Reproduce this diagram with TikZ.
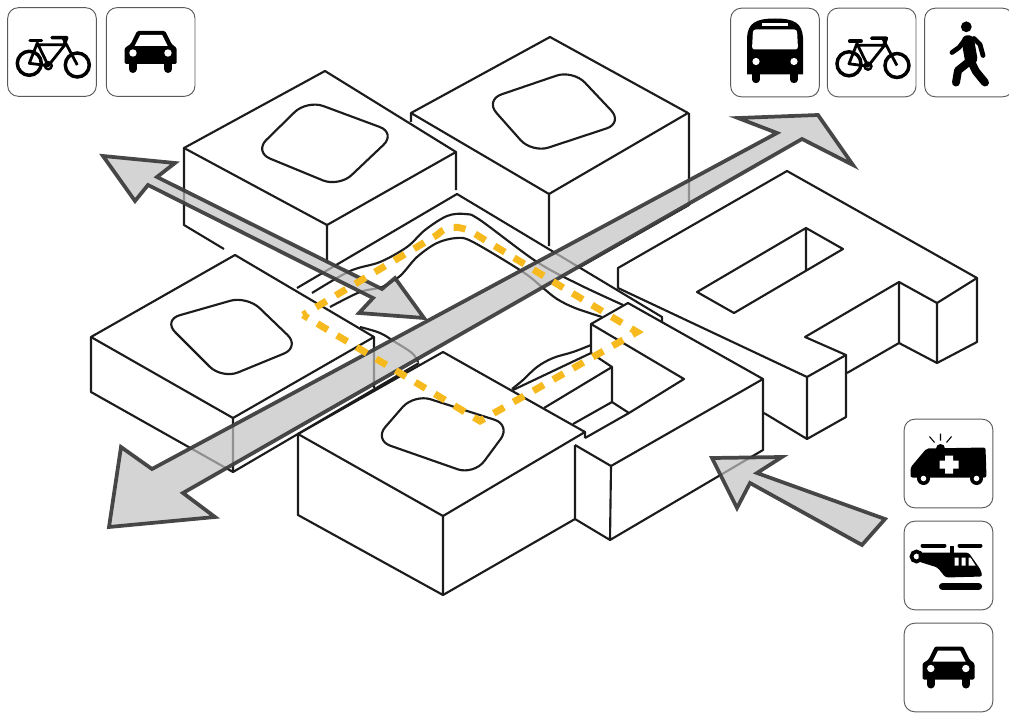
\documentclass[tikz,border=0pt]{standalone}
\usetikzlibrary{positioning}
\definecolor{wallblack}{HTML}{1C1C1C}
\definecolor{arrowgray}{HTML}{C2C2C2}
\definecolor{arrowdark}{HTML}{3E3E3E}
\definecolor{routeyellow}{HTML}{F6BA1E}
\definecolor{boxgray}{HTML}{5A5A5A}
\tikzset{
  bikeicon/.pic={
    \draw[line width=2.6pt, black] (-22.7,11.3) circle (12) (25.3,13) circle (12);
    \draw[line width=1.8pt, black] (-3.7,13.7) circle (3.5);
    \draw[line width=2.1pt, black, line join=round]
      (-22.7,11.3) -- (-14.7,-9) -- (-3.7,13.7) -- cycle
      (-14.7,-7.3) -- (13,-7.3) -- (-3.7,13.7)
      (11,-14) -- (25.3,13);
    \draw[line width=2.6pt, black, line cap=round] (-22,-11.3) -- (-10.5,-11.3);
    \draw[line width=2.6pt, black, line cap=round, line join=round]
      (0,-14.3) -- (14.7,-14.3) -- (12.5,-8);
  },
  caricon/.pic={
    \fill[black, rounded corners=1pt] (-26,12) -- (-26,-4) -- (-20,-8) -- (-13.5,-21)
      -- (14.5,-21) -- (21,-8) -- (26,-4) -- (26,12) -- cycle;
    \fill[white] (-10.5,-17) -- (11.5,-17) -- (17,-6) -- (-16,-6) -- cycle;
    \draw[line width=6pt, black, line cap=round] (-18,12) -- (-18,17) (17.5,12) -- (17.5,17);
    \fill[white] (-17.7,1) circle (3.7) (17.3,1) circle (3.7);
  },
  busicon/.pic={
    \fill[black] (-28,22) -- (-28,-15) .. controls (-27,-29) and (-20,-34) .. (0,-34)
      .. controls (20,-34) and (27,-29) .. (28,-15) -- (28,22) -- cycle;
    \fill[white, rounded corners=2pt] (-22,-23) -- (22,-23) -- (23,-3) -- (-23,-3) -- cycle;
    \fill[white] (-13,-29) rectangle (13,-26);
    \fill[white] (-19,9) circle (3.6) (19,9) circle (3.6);
    \draw[line width=5.5pt, black, line cap=round] (-19,21) -- (-19,27) (19,21) -- (19,27);
  },
  walkericon/.pic={
    \fill[black] (-2.7,-25.7) circle (5.4);
    \draw[line width=9.5pt, black, line cap=round] (-1,-11) -- (2,6);
    \draw[line width=3.6pt, black, line cap=round, line join=round]
      (-3,-14) -- (-10,-5) -- (-17,0) (5,-14) -- (11,-8) -- (14,3);
    \draw[line width=6pt, black, line cap=round, line join=round]
      (-1,10) -- (-11,18) -- (-13,30) (2,9) -- (7,19) -- (16,30);
  },
  ambulanceicon/.pic={
    \fill[black, rounded corners=1.5pt] (-38,14) -- (-38,4) -- (-22,-15) -- (37,-16)
      -- (38,14) -- cycle;
    \fill[black] (-8,-15) circle (4.5);
    \draw[line width=.8pt, black] (-8,-30) -- (-8,-23) (-19,-27) -- (-14,-21) (3,-27) -- (-2,-21);
    \fill[white] (-3.5,-8) rectangle (4.5,10) (-9,-3) rectangle (10,5);
    \fill[black] (-25,15) circle (6.5) (28,15) circle (6.5);
    \fill[white] (-25,15) circle (2.8) (28,15) circle (2.8);
  },
  helicoptericon/.pic={
    \draw[line width=3pt, black, line cap=round] (-26,-20) -- (-4,-20) (11,-20) -- (32,-20);
    \draw[line width=3pt, black] (3.5,-20) -- (3.5,-11);
    \fill[black, rounded corners=2pt] (-30,-13) -- (20,-13) -- (32,4) -- (34,11)
      -- (-3,12) -- (-11,2) -- (-30,-4) -- cycle;
    \draw[line width=2.8pt, black] (-32,-9) circle (5);
    \fill[white] (6,-8) rectangle (10,0) (13,-8) rectangle (17,0);
    \fill[white] (20,-8) -- (22,-8) -- (27,0) -- (20,0) -- cycle;
    \draw[line width=5.4pt, black, line cap=round] (-6,21) -- (30,21);
  },
}
\begin{document}
\begin{tikzpicture}[
  x=0.75pt, y=-0.75pt,
  wall/.style={draw=wallblack, line width=1.6pt, line join=round},
  courtyard/.style={draw=wallblack, line width=1.6pt, rounded corners=13pt},
  iconbox/.style={draw=boxgray, line width=.7pt, rounded corners=8pt,
    minimum size=66.5pt, inner sep=0pt, outer sep=0pt},
  flow/.style={draw=arrowdark, line width=2.8pt, line join=miter, miter limit=6,
    fill=arrowgray, fill opacity=.7, draw opacity=.95},
  route/.style={draw=routeyellow, line width=5.2pt,
    dash pattern=on 9pt off 8.1pt, dash phase=4.5pt},
]
  \useasboundingbox (0,0) rectangle (1009,713);

  \node[iconbox] (bikeleft) at (52,52) {};
  \node[iconbox, right=7.5pt of bikeleft] (carleft) {};
  \node[iconbox] (bus) at (775,52.5) {};
  \node[iconbox, right=6pt of bus] (bikeright) {};
  \node[iconbox, right=6.5pt of bikeright] (walker) {};
  \node[iconbox] (ambulance) at (948.5,463.5) {};
  \node[iconbox, below=10pt of ambulance] (helicopter) {};
  \node[iconbox, below=10pt of helicopter] (carright) {};

  \pic at (bikeleft) {bikeicon};
  \pic at (carleft) {caricon};
  \pic at (bus) {busicon};
  \pic at (bikeright) {bikeicon};
  \pic at (walker) {walkericon};
  \pic at (ambulance) {ambulanceicon};
  \pic at (helicopter) {helicoptericon};
  \pic at (carright) {caricon};

  % blocks
  \draw[wall] (184,148) -- (325,71) -- (456,152) -- (327,225) -- cycle;
  \draw[wall] (184,148) -- (184,225) -- (224,249) (327,225) -- (327,263) (456,152) -- (456,190);
  \draw[wall] (411,122) -- (411,113) -- (550,37) -- (688,113) -- (549,194) -- (411,113);
  \draw[wall] (549,194) -- (549,246) (689,113) -- (689,205) -- (580,267);
  \draw[wall] (91,337) -- (235,255) -- (374,337) -- (233,418) -- cycle;
  \draw[wall] (91,337) -- (91,392) -- (233,472) -- (233,418) (374,337) -- (374,388);
  \draw[wall] (233,472) -- (419,363);
  \draw[wall] (298,434) -- (443,352) -- (585,432) -- (443,516) -- cycle;
  \draw[wall] (298,434) -- (298,515) -- (443,595) -- (443,516) (585,432) -- (585,438);
  \draw[wall] (443,595) -- (575,519);

  % courtyards
  \draw[courtyard] (307,100) -- (396,133) -- (339,187) -- (254,152) -- cycle;
  \draw[courtyard] (573,70) -- (623,123) -- (532,153) -- (485,100) -- cycle;
  \draw[courtyard] (247,296) -- (300,347) -- (222,379) -- (163,320) -- cycle;
  \draw[courtyard] (414,394) -- (511,425) -- (474,475) -- (374,440) -- cycle;

  % plaza and road
  \draw[wall] (297,288) -- (457,194) -- (662,317) -- (662,322);
  \draw[wall] plot[smooth, tension=.55] coordinates {(312,293) (350,271) (380,262) (407,247)
    (425,230) (447,216) (465,214) (480,220) (537,262) (580,285) (623,305)};
  \draw[wall] plot[smooth, tension=.55] coordinates {(330,307) (360,292) (382,287) (400,276)
    (417,257) (437,243) (457,238) (473,242) (523,272) (543,288) (557,299) (575,308) (602,317)};
  \draw[wall] plot[smooth, tension=.6] coordinates {(360,327) (380,333) (395,342) (412,353) (418,362)};
  \draw[wall] plot[smooth, tension=.6] coordinates {(512,389) (523,380) (537,367) (553,358)
    (573,352) (591,345)};
  \draw[wall] (513,390) -- (591,353);

  % U building
  \draw[wall] (575,445) -- (611,466) -- (763,379) -- (628,303) -- (591,324) -- (684,379)
    -- (629,413) -- (585,438);
  \draw[wall] (575,445) -- (575,519) -- (610,540) -- (763,450) -- (763,379) (611,466) -- (610,540);
  \draw[wall] (591,324) -- (591,353) -- (612,367) -- (612,402) -- (629,413);
  \draw[wall] (612,367) -- (544,408) (612,402) -- (573,424);

  % P building
  \draw[wall] (618,288) -- (618,268) -- (787,171) -- (977,278) -- (937,303) -- (899,282)
    -- (805,337) -- (846,355) -- (807,377) -- cycle;
  \draw[wall] (977,278) -- (977,342) -- (937,363) -- (899,343) -- (899,282);
  \draw[wall] (937,303) -- (937,363) (899,343) -- (847,373);
  \draw[wall] (846,355) -- (846,417) -- (807,439) -- (764,413) (807,377) -- (807,439);
  \draw[wall] (806,228) -- (697,292) -- (734,313) -- (843,249) -- cycle (806,228) -- (806,270);

  % arrows
  \draw[flow] (109,527) -- (121,447) -- (152,469) -- (777,133) -- (738,118) -- (818,115)
    -- (853,165) -- (802,139) -- (183,493) -- (215,517) -- cycle;
  \draw[flow] (103,156) -- (175,163) -- (157,177) -- (382,289) -- (395,278) -- (424,318)
    -- (359,313) -- (373,298) -- (148,185) -- (135,201) -- cycle;
  \draw[flow] (712,458) -- (782,457) -- (757,473) -- (885,519) -- (862,545) -- (750,483)
    -- (737,508) -- cycle;

  % route
  \draw[route] (303,315) -- (480,421) -- (637,332) -- (557,284) -- (480,237)
    .. controls (465,227) and (450,222) .. (437,235) -- (303,315);
\end{tikzpicture}
\end{document}
